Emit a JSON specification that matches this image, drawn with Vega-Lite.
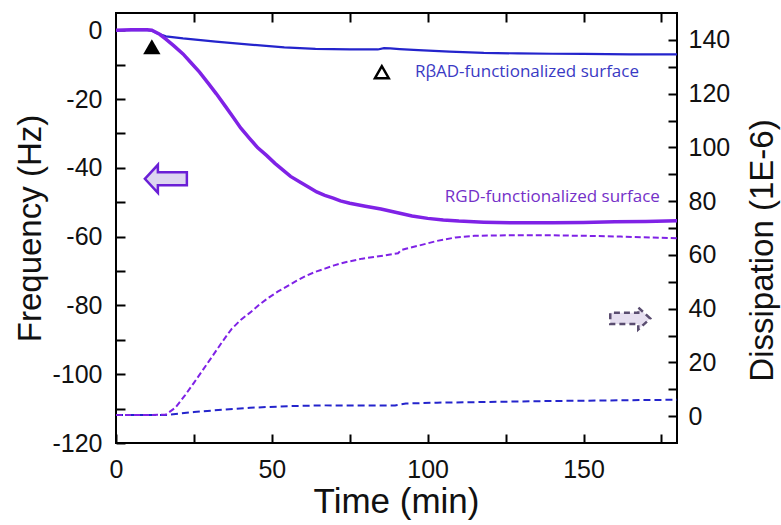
{
  "$schema": "https://vega.github.io/schema/vega-lite/v6.json",
  "width": 561,
  "height": 430,
  "autosize": {"type": "none"},
  "padding": {"left": 116, "top": 13, "right": 104, "bottom": 82},
  "background": "white",
  "config": {
    "view": {"stroke": "black", "strokeWidth": 2},
    "axis": {
      "domain": false, "offset": -9, "tickSize": 9, "tickColor": "black", "tickWidth": 2, "zindex": 2,
      "labelFont": "Liberation Sans", "labelFontSize": 25, "labelColor": "#111", "labelFlush": false,
      "titleFont": "Liberation Sans", "titleFontSize": 33, "titleFontWeight": "normal", "titleColor": "#111",
      "grid": false
    }
  },
  "datasets": {
    "freq": [
      {"s": "RGD", "t": 0, "v": 0}, {"s": "RGD", "t": 5, "v": 0.1}, {"s": "RGD", "t": 10, "v": 0.1}, {"s": "RGD", "t": 11.5, "v": 0},
      {"s": "RGD", "t": 14, "v": -1.2}, {"s": "RGD", "t": 16, "v": -2.6}, {"s": "RGD", "t": 18.5, "v": -4.5}, {"s": "RGD", "t": 21.5, "v": -6.9},
      {"s": "RGD", "t": 24, "v": -9.4}, {"s": "RGD", "t": 26.8, "v": -12.2}, {"s": "RGD", "t": 29.5, "v": -15.3}, {"s": "RGD", "t": 32.2, "v": -18.5},
      {"s": "RGD", "t": 35, "v": -22}, {"s": "RGD", "t": 37.6, "v": -25.3}, {"s": "RGD", "t": 40, "v": -28.4}, {"s": "RGD", "t": 42.9, "v": -31.5},
      {"s": "RGD", "t": 45.5, "v": -34.2}, {"s": "RGD", "t": 48.3, "v": -36.4}, {"s": "RGD", "t": 51, "v": -38.7}, {"s": "RGD", "t": 53.6, "v": -40.7},
      {"s": "RGD", "t": 56, "v": -42.5}, {"s": "RGD", "t": 59, "v": -44.1}, {"s": "RGD", "t": 62, "v": -45.7}, {"s": "RGD", "t": 64.4, "v": -47},
      {"s": "RGD", "t": 67, "v": -48}, {"s": "RGD", "t": 69.7, "v": -48.8}, {"s": "RGD", "t": 72, "v": -49.6}, {"s": "RGD", "t": 75, "v": -50.3},
      {"s": "RGD", "t": 80, "v": -51.2}, {"s": "RGD", "t": 85, "v": -52}, {"s": "RGD", "t": 90, "v": -53}, {"s": "RGD", "t": 95, "v": -54},
      {"s": "RGD", "t": 100, "v": -54.7}, {"s": "RGD", "t": 105, "v": -55.2}, {"s": "RGD", "t": 110, "v": -55.5}, {"s": "RGD", "t": 118, "v": -55.8},
      {"s": "RGD", "t": 128, "v": -56}, {"s": "RGD", "t": 140, "v": -56}, {"s": "RGD", "t": 150, "v": -55.9}, {"s": "RGD", "t": 160, "v": -55.7},
      {"s": "RGD", "t": 170, "v": -55.6}, {"s": "RGD", "t": 180, "v": -55.4},
      {"s": "RBAD", "t": 0, "v": 0}, {"s": "RBAD", "t": 10, "v": 0}, {"s": "RBAD", "t": 11.5, "v": -0.1}, {"s": "RBAD", "t": 13, "v": -0.8},
      {"s": "RBAD", "t": 16, "v": -1.8}, {"s": "RBAD", "t": 21.5, "v": -2.4}, {"s": "RBAD", "t": 32, "v": -3.3}, {"s": "RBAD", "t": 43, "v": -4.2},
      {"s": "RBAD", "t": 54, "v": -5.0}, {"s": "RBAD", "t": 64, "v": -5.4}, {"s": "RBAD", "t": 75, "v": -5.6}, {"s": "RBAD", "t": 84, "v": -5.6},
      {"s": "RBAD", "t": 86, "v": -5.2}, {"s": "RBAD", "t": 88, "v": -5.3}, {"s": "RBAD", "t": 91, "v": -5.5}, {"s": "RBAD", "t": 97, "v": -5.8},
      {"s": "RBAD", "t": 107, "v": -6.2}, {"s": "RBAD", "t": 118, "v": -6.6}, {"s": "RBAD", "t": 129, "v": -6.75}, {"s": "RBAD", "t": 140, "v": -6.85},
      {"s": "RBAD", "t": 150, "v": -6.9}, {"s": "RBAD", "t": 165, "v": -7.0}, {"s": "RBAD", "t": 180, "v": -7.0}
    ],
    "diss": [
      {"s": "RGD", "t": 0, "v": 0.4}, {"s": "RGD", "t": 10, "v": 0.4}, {"s": "RGD", "t": 16, "v": 0.6}, {"s": "RGD", "t": 19, "v": 3.1},
      {"s": "RGD", "t": 22, "v": 7.5}, {"s": "RGD", "t": 25, "v": 12.4}, {"s": "RGD", "t": 28, "v": 17.4}, {"s": "RGD", "t": 31, "v": 22.4},
      {"s": "RGD", "t": 34, "v": 27.5}, {"s": "RGD", "t": 37, "v": 32.3}, {"s": "RGD", "t": 40, "v": 35.8}, {"s": "RGD", "t": 43, "v": 38.5},
      {"s": "RGD", "t": 46, "v": 41.5}, {"s": "RGD", "t": 49, "v": 44.1}, {"s": "RGD", "t": 52, "v": 46.4}, {"s": "RGD", "t": 55, "v": 48.4},
      {"s": "RGD", "t": 58, "v": 50.4}, {"s": "RGD", "t": 61, "v": 52.2}, {"s": "RGD", "t": 64, "v": 53.7}, {"s": "RGD", "t": 67, "v": 54.9},
      {"s": "RGD", "t": 70, "v": 56.1}, {"s": "RGD", "t": 73, "v": 57.1}, {"s": "RGD", "t": 79, "v": 58.6}, {"s": "RGD", "t": 85, "v": 59.6},
      {"s": "RGD", "t": 90.5, "v": 60.6}, {"s": "RGD", "t": 91.5, "v": 61.8}, {"s": "RGD", "t": 93, "v": 62.3}, {"s": "RGD", "t": 97, "v": 63.4},
      {"s": "RGD", "t": 103, "v": 65.2}, {"s": "RGD", "t": 109, "v": 66.5}, {"s": "RGD", "t": 115, "v": 67.1}, {"s": "RGD", "t": 126, "v": 67.3},
      {"s": "RGD", "t": 138, "v": 67.3}, {"s": "RGD", "t": 150, "v": 67.1}, {"s": "RGD", "t": 162, "v": 66.8}, {"s": "RGD", "t": 180, "v": 66.2},
      {"s": "RBAD", "t": 0, "v": 0.4}, {"s": "RBAD", "t": 16, "v": 0.4}, {"s": "RBAD", "t": 20, "v": 0.9}, {"s": "RBAD", "t": 25, "v": 1.5},
      {"s": "RBAD", "t": 31, "v": 2.1}, {"s": "RBAD", "t": 43, "v": 3.1}, {"s": "RBAD", "t": 55, "v": 3.7}, {"s": "RBAD", "t": 67, "v": 4.0},
      {"s": "RBAD", "t": 89.5, "v": 4.0}, {"s": "RBAD", "t": 93, "v": 4.7}, {"s": "RBAD", "t": 103, "v": 5.0}, {"s": "RBAD", "t": 115, "v": 5.2},
      {"s": "RBAD", "t": 138, "v": 5.6}, {"s": "RBAD", "t": 180, "v": 6.1}
    ],
    "notes": [
      {"k": "RBAD", "t": 95.9, "v": -12.2, "label": "RβAD-functionalized surface"},
      {"k": "RGD", "t": 105.5, "v": -48.4, "label": "RGD-functionalized surface"}
    ],
    "symbols": [
      {"k": "added", "t": 11.5, "v": -4.8},
      {"k": "rinse", "t": 85.3, "v": -12.2},
      {"k": "leftarrow", "t": 16, "v": -43.2},
      {"k": "rightarrow", "t": 165, "v": -83.8}
    ]
  },
  "resolve": {"scale": {"x": "independent", "y": "independent"}, "axis": {"y": "independent", "x": "independent"}},
  "layer": [
    {
      "encoding": {
        "x": {
          "field": "t", "type": "quantitative",
          "scale": {"domain": [0, 180], "nice": false, "zero": false},
          "axis": {
            "orient": "bottom", "values": [0, 25, 50, 75, 100, 125, 150, 175],
            "labelExpr": "datum.value % 50 == 0 ? '' + datum.value : ''",
            "labelPadding": 14,
            "title": "Time (min)", "titleFontSize": 35, "titleX": 280, "titleY": 67, "titleBaseline": "middle", "titleAlign": "center"
          }
        },
        "y": {
          "field": "v", "type": "quantitative",
          "scale": {"domain": [-120, 5], "nice": false, "zero": false},
          "axis": {
            "orient": "left", "values": [-120, -110, -100, -90, -80, -70, -60, -50, -40, -30, -20, -10, 0],
            "labelExpr": "datum.value % 20 == 0 ? '' + datum.value : ''",
            "labelPadding": 14,
            "title": "Frequency (Hz)", "titleX": -95, "titleY": 215, "titleBaseline": "middle", "titleAngle": 270, "titleAlign": "center"
          }
        }
      },
      "layer": [
        {"data": {"name": "freq"}, "transform": [{"filter": "datum.s == 'RBAD'"}], "mark": {"type": "line", "color": "#2424cc", "strokeWidth": 2.2}},
        {"data": {"name": "freq"}, "transform": [{"filter": "datum.s == 'RGD'"}], "mark": {"type": "line", "color": "#7f22e6", "strokeWidth": 3.5}},
        {"data": {"name": "notes"}, "transform": [{"filter": "datum.k == 'RBAD'"}], "mark": {"type": "text", "align": "left", "baseline": "middle", "font": "Open Sans", "fontSize": 17, "color": "#3a3ac4"}, "encoding": {"text": {"field": "label"}}},
        {"data": {"name": "notes"}, "transform": [{"filter": "datum.k == 'RGD'"}], "mark": {"type": "text", "align": "left", "baseline": "middle", "font": "Open Sans", "fontSize": 17, "color": "#7430c8"}, "encoding": {"text": {"field": "label"}}},
        {"data": {"name": "symbols"}, "transform": [{"filter": "datum.k == 'added'"}], "mark": {"type": "point", "shape": "triangle-up", "size": 300, "filled": true, "color": "black", "opacity": 1}},
        {"data": {"name": "symbols"}, "transform": [{"filter": "datum.k == 'rinse'"}], "mark": {"type": "point", "shape": "triangle-up", "size": 190, "filled": true, "fill": "white", "stroke": "black", "strokeWidth": 2.5, "opacity": 1}},
        {"data": {"name": "symbols"}, "transform": [{"filter": "datum.k == 'leftarrow'"}], "mark": {"type": "point", "shape": "M -1 0 L -0.38 -0.667 L -0.38 -0.31 L 1 -0.31 L 1 0.31 L -0.38 0.31 L -0.38 0.667 Z", "size": 1764, "filled": true, "fill": "#ddd5f0", "stroke": "#6a1fd6", "strokeWidth": 2.5, "opacity": 1}},
        {"data": {"name": "symbols"}, "transform": [{"filter": "datum.k == 'rightarrow'"}], "mark": {"type": "point", "shape": "M 1 0 L 0.4 -0.55 L 0.4 -0.28 L -1 -0.28 L -1 0.28 L 0.4 0.28 L 0.4 0.55 Z", "size": 1600, "filled": true, "fill": "#e6dff0", "stroke": "#5a4d70", "strokeWidth": 2.5, "strokeDash": [6, 4], "opacity": 1}}
      ]
    },
    {
      "encoding": {
        "x": {
          "field": "t", "type": "quantitative",
          "scale": {"domain": [0, 180], "nice": false, "zero": false},
          "axis": {"orient": "top", "values": [25, 50, 75, 100, 125, 150, 175], "labels": false, "title": null}
        },
        "y": {
          "field": "v", "type": "quantitative",
          "scale": {"domain": [-10, 150], "nice": false, "zero": false},
          "axis": {
            "orient": "right", "values": [0, 10, 20, 30, 40, 50, 60, 70, 80, 90, 100, 110, 120, 130, 140],
            "labelExpr": "datum.value % 20 == 0 ? '' + datum.value : ''",
            "labelPadding": 11,
            "title": "Dissipation (1E-6)", "titleX": 94, "titleY": 237, "titleBaseline": "middle", "titleAngle": 270, "titleAlign": "center"
          }
        }
      },
      "layer": [
        {"data": {"name": "diss"}, "transform": [{"filter": "datum.s == 'RBAD'"}], "mark": {"type": "line", "color": "#2424cc", "strokeWidth": 2, "strokeDash": [7, 4]}},
        {"data": {"name": "diss"}, "transform": [{"filter": "datum.s == 'RGD'"}], "mark": {"type": "line", "color": "#7f22e6", "strokeWidth": 2, "strokeDash": [6, 3]}}
      ]
    }
  ]
}
